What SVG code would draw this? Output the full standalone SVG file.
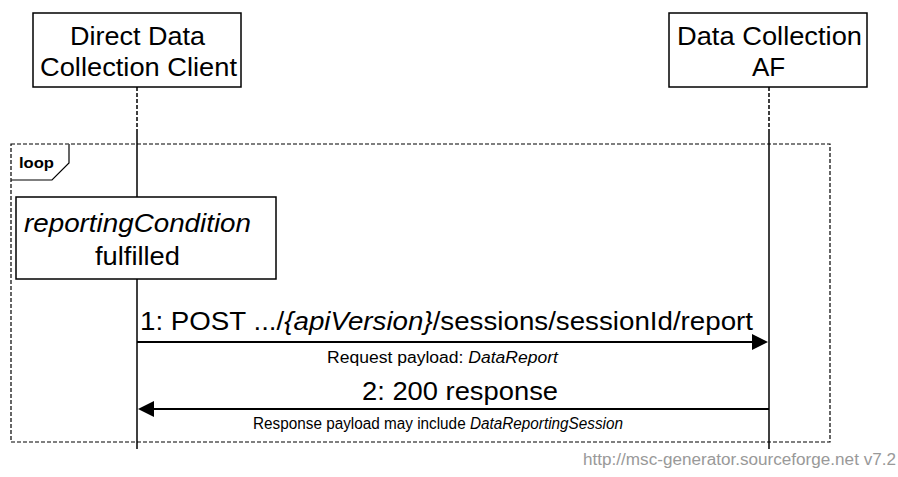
<svg xmlns="http://www.w3.org/2000/svg" width="898" height="477" viewBox="0 0 898 477">
<style>
text { font-family: "Liberation Sans", Arial, sans-serif; fill: #000; }
.ent { font-size: 26px; text-anchor: middle; }
.msg { font-size: 26px; }
.sub { font-size: 16px; }
.it { font-style: italic; }
.box { fill: #fff; stroke: #000; stroke-width: 1.5; }
.life { stroke: #000; stroke-width: 1.5; fill: none; }
.lifed { stroke: #000; stroke-width: 1.5; fill: none; stroke-dasharray: 4 2; }
.arr { stroke: #000; stroke-width: 2; fill: none; }
.head { fill: #000; stroke: none; }
.loop { fill: none; stroke: #000; stroke-width: 1.2; stroke-dasharray: 4 2; }
.tag { fill: #fff; stroke: #000; stroke-width: 1.2; }
</style>
<rect x="0" y="0" width="898" height="477" fill="#fff"/>
<g id="lifelines">
  <line class="lifed" x1="137" y1="87" x2="137" y2="132"/>
  <line class="life" x1="137" y1="132" x2="137" y2="449"/>
  <line class="lifed" x1="769" y1="87" x2="769" y2="132"/>
  <line class="life" x1="769" y1="132" x2="769" y2="449"/>
</g>
<g id="loop">
  <rect class="loop" x="11" y="144" width="819" height="298"/>
  <path class="tag" d="M69,144 V163 L52,180 H11"/>
  <text x="19" y="168" font-size="15" font-weight="bold" textLength="35" lengthAdjust="spacingAndGlyphs">loop</text>
</g>
<g id="client">
  <rect class="box" x="33" y="13" width="208" height="74"/>
  <text class="ent" x="137.5" y="45" textLength="135" lengthAdjust="spacingAndGlyphs">Direct Data</text>
  <text class="ent" x="138.5" y="76" textLength="197" lengthAdjust="spacingAndGlyphs">Collection Client</text>
</g>
<g id="af">
  <rect class="box" x="669" y="13" width="198" height="74"/>
  <text class="ent" x="769.5" y="45" textLength="185" lengthAdjust="spacingAndGlyphs">Data Collection</text>
  <text class="ent" x="768.5" y="76">AF</text>
</g>
<g id="condition">
  <rect class="box" x="16" y="197" width="260" height="82"/>
  <text class="ent it" x="137.5" y="232" textLength="227" lengthAdjust="spacingAndGlyphs">reportingCondition</text>
  <text class="ent" x="137.5" y="265" textLength="85" lengthAdjust="spacingAndGlyphs">fulfilled</text>
</g>
<g id="connectors">
  <g id="msg1">
    <line class="arr" x1="137" y1="342" x2="753" y2="342"/>
    <polygon class="head" points="752,334 768,342 752,350"/>
    <text class="msg" x="140" y="330" textLength="613" lengthAdjust="spacingAndGlyphs">1: POST .../<tspan class="it">{apiVersion}</tspan>/sessions/sessionId/report</text>
    <text class="sub" x="327" y="363" textLength="231" lengthAdjust="spacingAndGlyphs">Request payload: <tspan class="it">DataReport</tspan></text>
  </g>
  <g id="msg2">
    <line class="arr" x1="769" y1="409" x2="153" y2="409"/>
    <polygon class="head" points="154,401 138,409 154,417"/>
    <text class="msg" x="362" y="400" textLength="196" lengthAdjust="spacingAndGlyphs">2: 200 response</text>
    <text class="sub" x="253" y="429" textLength="370" lengthAdjust="spacingAndGlyphs">Response payload may include <tspan class="it">DataReportingSession</tspan></text>
  </g>
</g>
<text x="896" y="465" font-size="16" text-anchor="end" style="fill:#999" textLength="313" lengthAdjust="spacingAndGlyphs">http://msc-generator.sourceforge.net v7.2</text>
</svg>
